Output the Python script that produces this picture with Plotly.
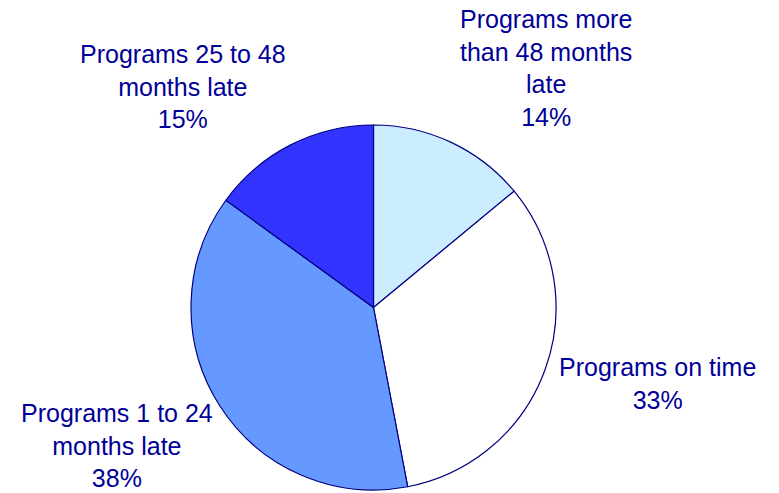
import plotly.graph_objects as go

# -----------------------------
# Data
# -----------------------------
categories = [
    "Programs more<br>than 48 months<br>late",
    "Programs on time",
    "Programs 1 to 24<br>months late",
    "Programs 25 to 48<br>months late",
]
shares = [14, 33, 38, 15]
colors = ["#CCECFF", "#FFFFFF", "#6699FF", "#3333FF"]

# label placement (pixel centres in the 779x493 picture)
label_px = [(546, 68), (657, 383), (117, 445), (183, 87)]

# the page body adds an 8px margin, so draw on a slightly smaller canvas
OFF = 8
W, H = 779 - OFF, 493 - OFF
text_color = "#000099"


def fx(px):
    return (px - OFF) / W


def fy(py):
    return 1 - (py - OFF) / H


fig = go.Figure()

fig.add_trace(
    go.Pie(
        labels=categories,
        values=shares,
        sort=False,
        direction="clockwise",
        rotation=0,
        textinfo="none",
        hoverinfo="label+percent",
        marker=dict(colors=colors, line=dict(color="#000080", width=1.2)),
        domain=dict(x=[fx(189), fx(558)], y=[fy(490), fy(125)]),
        showlegend=False,
    )
)

# -----------------------------
# Outside labels
# -----------------------------
for name, val, (px, py) in zip(categories, shares, label_px):
    fig.add_annotation(
        x=fx(px),
        y=fy(py),
        xref="paper",
        yref="paper",
        text=f"{name}<br>{val}%",
        showarrow=False,
        xanchor="center",
        yanchor="middle",
        align="center",
        font=dict(family="Liberation Sans, Arial", size=25, color=text_color),
    )

fig.update_layout(
    width=W,
    height=H,
    margin=dict(l=0, r=0, t=0, b=0),
    paper_bgcolor="white",
    plot_bgcolor="white",
)

fig.write_html("out.html")
